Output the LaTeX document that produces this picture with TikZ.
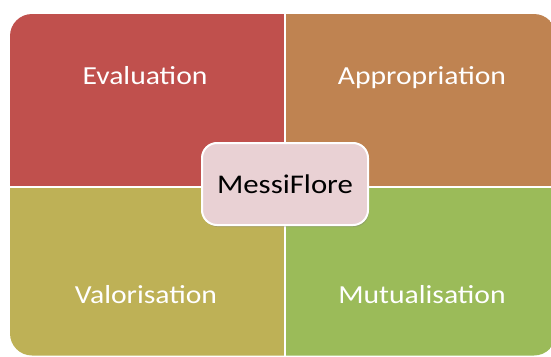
\documentclass[tikz,border=0pt]{standalone}
\usepackage{fontspec}
\setmainfont{Carlito}
\usetikzlibrary{shadows}
\definecolor{qred}{HTML}{C0504D}
\definecolor{qorange}{HTML}{BF8351}
\definecolor{qolive}{HTML}{BEB156}
\definecolor{qgreen}{HTML}{9BBB59}
\definecolor{qpink}{HTML}{E9D1D4}
\newcommand\stext[1]{\scalebox{1.14}[1]{#1}}
\tikzset{
  quadlabel/.style={anchor=base, text=white, inner sep=0pt, font=\fontsize{26}{30}\selectfont},
  centerbox/.style={rounded corners=15pt, fill=qpink, draw=white, line width=2pt,
    minimum width=166pt, minimum height=82pt, inner sep=0pt,
    font=\fontsize{27}{31}\selectfont, text=black,
    drop shadow={shadow xshift=1pt, shadow yshift=-2pt, opacity=0.35}}
}
\begin{document}
\begin{tikzpicture}[x=1pt,y=-1pt]
\useasboundingbox (0,0) rectangle (551,356);
\begin{scope}
  \clip[rounded corners=22pt] (10,14) rectangle (556,355.5);
  \fill[qred] (0,0) rectangle (283.5,186);
  \fill[qorange] (286,0) rectangle (570,186);
  \fill[qolive] (0,188.3) rectangle (283.5,370);
  \fill[qgreen] (286,188.3) rectangle (570,370);
\end{scope}
\node[quadlabel] (eval) at (145,84.3) {\stext{Evaluation}};
\node[quadlabel] (appr) at (422,84.3) {\stext{Appropriation}};
\node[quadlabel] (valo) at (146,303) {\stext{Valorisation}};
\node[quadlabel] (mutu) at (422,303) {\stext{Mutualisation}};
\node[centerbox] (messi) at (285,184) {\stext{MessiFlore}};
\end{tikzpicture}
\end{document}
